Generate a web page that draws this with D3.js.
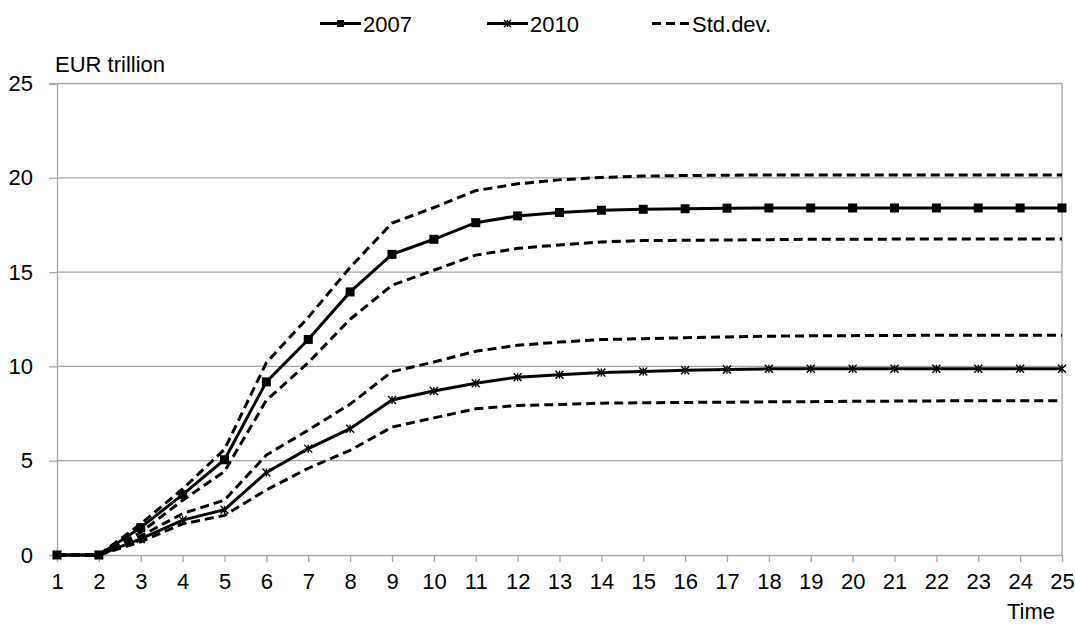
<!DOCTYPE html>
<html>
<head>
<meta charset="utf-8">
<script src="https://cdn.jsdelivr.net/npm/d3@7"></script>
<style>
  html, body { margin: 0; padding: 0; background: #fff; }
  svg { display: block; font-family: "Liberation Sans", Arial, sans-serif; }
</style>
</head>
<body>
<svg id="chart" width="1075" height="626"></svg>
<script>
// Time steps
const time = d3.range(1, 26);
const yTicks = [0, 5, 10, 15, 20, 25];

// Cumulative values, EUR trillion
const s2007 = [0, 0, 1.45, 3.2, 5.05, 9.18, 11.43, 13.95, 15.94, 16.74, 17.62, 17.98, 18.16,
  18.28, 18.33, 18.36, 18.39, 18.4, 18.4, 18.4, 18.4, 18.4, 18.4, 18.4, 18.4];
const s2010 = [0, 0, 0.85, 1.85, 2.4, 4.38, 5.64, 6.7, 8.22, 8.7, 9.11, 9.43, 9.56,
  9.68, 9.73, 9.79, 9.84, 9.87, 9.87, 9.87, 9.87, 9.87, 9.87, 9.87, 9.87];

// One standard deviation bands
const up2007 = [0, 0, 1.65, 3.5, 5.6, 10.2, 12.6, 15.25, 17.6, 18.42, 19.32, 19.68, 19.89,
  20.02, 20.09, 20.12, 20.14, 20.15, 20.15, 20.15, 20.15, 20.15, 20.15, 20.15, 20.15];
const lo2007 = [0, 0, 1.2, 2.9, 4.43, 8.2, 10.2, 12.5, 14.3, 15.1, 15.9, 16.26, 16.44,
  16.6, 16.67, 16.69, 16.7, 16.72, 16.74, 16.74, 16.75, 16.75, 16.75, 16.75, 16.75];
const up2010 = [0, 0, 1.0, 2.2, 2.91, 5.3, 6.62, 8.0, 9.72, 10.23, 10.8, 11.12, 11.29,
  11.42, 11.47, 11.52, 11.56, 11.6, 11.62, 11.63, 11.64, 11.65, 11.65, 11.65, 11.65];
const lo2010 = [0, 0, 0.7, 1.65, 2.1, 3.45, 4.6, 5.55, 6.78, 7.27, 7.75, 7.93, 7.98,
  8.05, 8.07, 8.09, 8.1, 8.12, 8.13, 8.15, 8.16, 8.17, 8.18, 8.18, 8.18];

const svg = d3.select("#chart");
const x = d3.scaleLinear().domain([1, 25]).range([57, 1062]);
const y = d3.scaleLinear().domain([0, 25]).range([555, 83.5]);
const grey = "#a6a6a6";
const fs = 22;

// Gridlines
svg.append("g").selectAll("line").data(yTicks.filter(d => d > 0)).join("line")
  .attr("x1", x(1)).attr("x2", x(25))
  .attr("y1", d => y(d)).attr("y2", d => y(d))
  .attr("stroke", grey).attr("stroke-width", 1.3);

// Right frame edge
svg.append("line").attr("x1", x(25)).attr("x2", x(25)).attr("y1", y(25)).attr("y2", y(0))
  .attr("stroke", grey).attr("stroke-width", 1.3);

// Y axis
const yAxis = svg.append("g").attr("transform", `translate(${x(1)},0)`)
  .call(d3.axisLeft(y).tickValues(yTicks).tickSize(8).tickPadding(16));
yAxis.select(".domain").attr("stroke", grey).attr("stroke-width", 1.3);
yAxis.selectAll(".tick line").attr("stroke", grey).attr("stroke-width", 1.3);
yAxis.selectAll("text").attr("font-size", fs).attr("fill", "#000")
  .attr("font-family", "Liberation Sans, Arial, sans-serif");

// X axis
const xAxis = svg.append("g").attr("transform", `translate(0,${y(0)})`)
  .call(d3.axisBottom(x).tickValues(time).tickFormat(d3.format("d")).tickSize(7).tickPadding(11).tickSizeOuter(0));
xAxis.select(".domain").attr("stroke", grey).attr("stroke-width", 1.3);
xAxis.selectAll(".tick line").attr("stroke", grey).attr("stroke-width", 1.3);
xAxis.selectAll("text").attr("font-size", fs).attr("fill", "#000")
  .attr("font-family", "Liberation Sans, Arial, sans-serif");

// Axis titles
svg.append("text").attr("x", 55).attr("y", 72).attr("font-size", fs).text("EUR trillion");
svg.append("text").attr("x", 1055).attr("y", 619).attr("text-anchor", "end")
  .attr("font-size", fs).text("Time");

const line = d3.line().x((d, i) => x(time[i])).y(d => y(d));

// Std.dev. bands
[up2007, lo2007, up2010, lo2010].forEach(arr => {
  svg.append("path").datum(arr).attr("d", line)
    .attr("fill", "none").attr("stroke", "#000").attr("stroke-width", 3)
    .attr("stroke-dasharray", "9,5");
});

// 2010 series with asterisk markers
svg.append("path").datum(s2010).attr("d", line)
  .attr("fill", "none").attr("stroke", "#000").attr("stroke-width", 3);
function star(g, cx, cy, r) {
  const p = `M${cx - r},${cy - r}L${cx + r},${cy + r}M${cx - r},${cy + r}L${cx + r},${cy - r}M${cx},${cy - r}L${cx},${cy + r}`;
  g.append("path").attr("d", p).attr("stroke", "#000").attr("stroke-width", 1.4).attr("fill", "none");
}
const g2010 = svg.append("g");
s2010.forEach((v, i) => star(g2010, x(time[i]), y(v), 4));

// 2007 series with square markers
svg.append("path").datum(s2007).attr("d", line)
  .attr("fill", "none").attr("stroke", "#000").attr("stroke-width", 3);
svg.append("g").selectAll("rect").data(s2007).join("rect")
  .attr("x", (d, i) => x(time[i]) - 4.5).attr("y", d => y(d) - 4.5)
  .attr("width", 9).attr("height", 9).attr("fill", "#000");

// Legend
const leg = svg.append("g");
const ly = 23.5;
leg.append("line").attr("x1", 320).attr("x2", 361).attr("y1", ly).attr("y2", ly)
  .attr("stroke", "#000").attr("stroke-width", 3);
leg.append("rect").attr("x", 337).attr("y", ly - 3.5).attr("width", 7).attr("height", 7).attr("fill", "#000");
leg.append("text").attr("x", 363).attr("y", 31.5).attr("font-size", fs).text("2007");

leg.append("line").attr("x1", 487).attr("x2", 528).attr("y1", ly).attr("y2", ly)
  .attr("stroke", "#000").attr("stroke-width", 3);
star(leg, 507.5, ly, 3.5);
leg.append("text").attr("x", 530).attr("y", 31.5).attr("font-size", fs).text("2010");

leg.append("line").attr("x1", 652).attr("x2", 689).attr("y1", ly).attr("y2", ly)
  .attr("stroke", "#000").attr("stroke-width", 3).attr("stroke-dasharray", "9,5");
leg.append("text").attr("x", 692).attr("y", 31.5).attr("font-size", fs).text("Std.dev.");
</script>
</body>
</html>
